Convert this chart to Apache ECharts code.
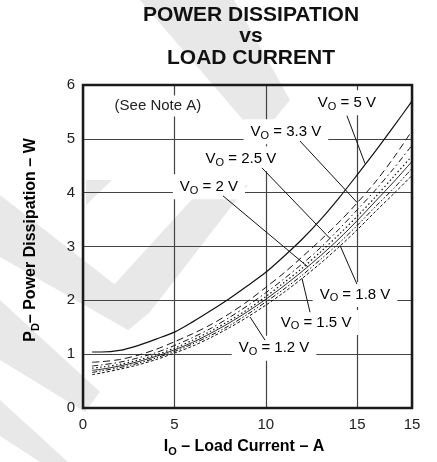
<!DOCTYPE html>
<html><head><meta charset="utf-8">
<script src="https://cdn.jsdelivr.net/npm/echarts@6/dist/echarts.min.js"></script>
<style>html,body{margin:0;padding:0;background:#fff}#c{width:437px;height:462px}</style>
</head><body><div id="c"></div>
<script>
// ---- data ----
const current = [0.5, 1, 2, 3, 4, 5, 6, 7, 8, 9, 10, 11, 12, 13, 14, 15, 16, 17, 18];
const pd_5V   = [1.04, 1.04, 1.07, 1.16, 1.28, 1.41, 1.60, 1.81, 2.03, 2.27, 2.52, 2.82, 3.14, 3.50, 3.90, 4.33, 4.77, 5.23, 5.70];
const pd_3V3  = [0.85, 0.86, 0.90, 0.98, 1.09, 1.23, 1.38, 1.55, 1.75, 1.98, 2.24, 2.51, 2.81, 3.12, 3.45, 3.81, 4.20, 4.65, 5.15];
const pd_2V5  = [0.78, 0.80, 0.85, 0.93, 1.03, 1.16, 1.31, 1.48, 1.68, 1.90, 2.14, 2.40, 2.68, 2.98, 3.32, 3.68, 4.05, 4.45, 4.88];
const pd_2V   = [0.74, 0.76, 0.81, 0.89, 0.99, 1.11, 1.26, 1.43, 1.62, 1.83, 2.07, 2.33, 2.60, 2.90, 3.22, 3.56, 3.92, 4.30, 4.68];
const pd_1V8  = [0.70, 0.72, 0.78, 0.86, 0.96, 1.08, 1.22, 1.39, 1.58, 1.79, 2.02, 2.27, 2.54, 2.83, 3.14, 3.48, 3.84, 4.20, 4.58];
const pd_1V5  = [0.66, 0.69, 0.75, 0.83, 0.93, 1.05, 1.19, 1.35, 1.53, 1.74, 1.97, 2.21, 2.47, 2.76, 3.06, 3.39, 3.74, 4.08, 4.45];
const pd_1V2  = [0.62, 0.65, 0.72, 0.80, 0.90, 1.02, 1.15, 1.31, 1.49, 1.69, 1.91, 2.15, 2.41, 2.69, 2.99, 3.31, 3.65, 3.98, 4.32];
const seriesNames = ['5 V', '3.3 V', '2.5 V', '2 V', '1.8 V', '1.5 V', '1.2 V'];
const xTicks = ['0', '5', '10', '15', '15'];
const yTicks = ['0', '1', '2', '3', '4', '5', '6'];

// ---- styles ----
const seriesValues = [pd_5V, pd_3V3, pd_2V5, pd_2V, pd_1V8, pd_1V5, pd_1V2];
const dashStyles = ['solid', [7, 4], [6, 3, 1.5, 3], [1.5, 2.5], 'solid', [5, 2, 1.5, 2, 1.5, 2], [3, 2]];
const widths = [1.2, 1, 1, 1.2, 0.9, 1, 1];

// annotation anchor points in data coordinates: label centre, leader start, leader end
const notes = [
  { v: '5',   c: [14.44, 5.67], a: [14.44, 5.43], b: [15.43, 4.54] },
  { v: '3.3', c: [11.10, 5.13], a: [11.87, 4.96], b: [14.99, 3.82] },
  { v: '2.5', c: [8.64, 4.63],  a: [9.79, 4.46],  b: [13.51, 3.15] },
  { v: '2',   c: [6.89, 4.11],  a: [7.66, 3.94],  b: [12.31, 2.62] },
  { v: '1.8', c: [14.88, 2.11], a: [14.99, 2.30], b: [14.06, 3.02] },
  { v: '1.5', c: [12.75, 1.59], a: [12.42, 1.78], b: [11.98, 2.41] },
  { v: '1.2', c: [10.45, 1.11], a: [9.96, 1.26],  b: [9.14, 1.69] }
];

const chart = echarts.init(document.getElementById('c'), null, { renderer: 'canvas' });
const FONT = 'Liberation Sans, Arial, sans-serif';
const X_MAX = 18;

const series = seriesValues.map((vals, i) => ({
  name: seriesNames[i], type: 'line', showSymbol: false, smooth: 0.3, z: 3,
  data: vals.map((v, j) => [current[j], v]),
  lineStyle: { color: '#111', width: widths[i], type: dashStyles[i] }
}));

chart.setOption({
  animation: false,
  backgroundColor: 'transparent',
  grid: { left: 83, top: 85, right: 25, bottom: 54, show: true, borderColor: '#1a1a1a', borderWidth: 2.5, z: 1 },
  xAxis: {
    type: 'value', min: 0, max: X_MAX, interval: 5,
    axisLine: { show: false }, axisTick: { show: false },
    splitLine: { show: true, lineStyle: { color: '#444', width: 1.2 } },
    axisLabel: { margin: 9, fontFamily: FONT, fontSize: 15, color: '#222',
      formatter: v => v >= X_MAX ? xTicks[4] : xTicks[Math.round(v / 5)] }
  },
  yAxis: {
    type: 'value', min: 0, max: 6, interval: 1,
    axisLine: { show: false }, axisTick: { show: false },
    splitLine: { show: true, lineStyle: { color: '#444', width: 1.2 } },
    axisLabel: { margin: 8, fontFamily: FONT, fontSize: 15, color: '#222', formatter: v => yTicks[v] }
  },
  series: series
});

function px(p) { return chart.convertToPixel({ gridIndex: 0 }, p); }

const sub = { fontFamily: FONT, fontSize: 11, lineHeight: 11, verticalAlign: 'bottom', color: '#222' };
const norm = { fontFamily: FONT, fontSize: 15, lineHeight: 19, color: '#222' };

const graphics = [];
// faint background watermark shapes (decoration of the scanned page)
const wm = [
  [[140, 0], [234, 0], [290, 100], [272, 122], [250, 128]],
  [[0, 195], [0, 257], [128, 330], [150, 312]],
  [[150, 312], [128, 330], [100, 300], [205, 185], [248, 185]],
  [[0, 300], [0, 360], [85, 412], [100, 392]],
  [[0, 400], [0, 436], [40, 462], [68, 462]],
  [[86, 180], [112, 180], [86, 205]]
];
wm.forEach(pts => graphics.push({ type: 'polygon', z: -10, silent: true, shape: { points: pts }, style: { fill: '#e8e8e8' } }));

// title
graphics.push({ type: 'text', x: 251, y: 4.5, z: 10, style: {
  text: 'POWER DISSIPATION\nvs\nLOAD CURRENT', fill: '#111', font: 'bold 21px ' + FONT,
  lineHeight: 21.3, align: 'center', verticalAlign: 'top' } });

// axis names
graphics.push({ type: 'text', x: 244, y: 447, z: 10, style: {
  text: '{b|I}{bs|O}{b| – Load Current – A}', align: 'center', verticalAlign: 'middle',
  rich: { b: { fontFamily: FONT, fontSize: 16, fontWeight: 'bold', lineHeight: 20, color: '#111' },
          bs: { fontFamily: FONT, fontSize: 11, fontWeight: 'bold', lineHeight: 11, verticalAlign: 'bottom', color: '#111' } } } });
graphics.push({ type: 'text', x: 31, y: 240, rotation: Math.PI / 2, z: 10, style: {
  text: '{b|P}{bs|D}{b|– Power Dissipation – W}', align: 'center', verticalAlign: 'middle',
  rich: { b: { fontFamily: FONT, fontSize: 16, fontWeight: 'bold', lineHeight: 20, color: '#111' },
          bs: { fontFamily: FONT, fontSize: 11, fontWeight: 'bold', lineHeight: 11, verticalAlign: 'bottom', color: '#111' } } } });

// (See Note A)
const np = px([4.1, 5.61]);
graphics.push({ type: 'text', x: np[0], y: np[1], z: 8, style: {
  text: '(See Note A)', font: '15px ' + FONT, fill: '#222', align: 'center', verticalAlign: 'middle',
  backgroundColor: '#fff', padding: [3, 12, 3, 12] } });

notes.forEach(n => {
  const c = px(n.c), a = px(n.a), b = px(n.b);
  graphics.push({ type: 'text', x: c[0], y: c[1], z: 8, style: {
    text: '{n|V}{s|O}{n| = ' + n.v + ' V}', align: 'center', verticalAlign: 'middle',
    backgroundColor: '#fff', padding: [3, 7, 3, 7], rich: { n: norm, s: sub } } });
  graphics.push({ type: 'line', z: 9, shape: { x1: a[0], y1: a[1], x2: b[0], y2: b[1] },
    style: { stroke: '#111', lineWidth: 1 } });
});

chart.setOption({ graphic: graphics });
</script>
</body></html>
